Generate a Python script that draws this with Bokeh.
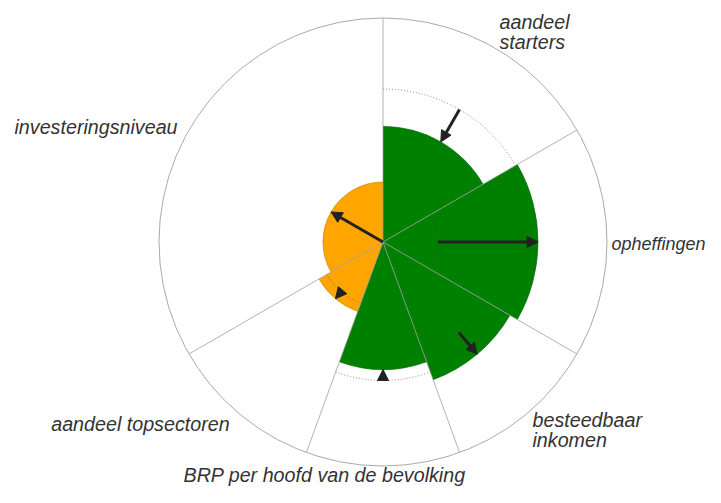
import math
from bokeh.plotting import figure
from bokeh.models import ColumnDataSource, Arrow, NormalHead, Range1d
from bokeh.core.properties import value
from bokeh.embed import file_html
from bokeh.resources import INLINE

# ---------------- data ----------------
categories = ["aandeel starters", "opheffingen", "besteedbaar inkomen",
              "BRP per hoofd van de bevolking", "aandeel topsectoren", "investeringsniveau"]
label_lines = [["aandeel", "starters"], ["opheffingen"], ["besteedbaar", "inkomen"],
               ["BRP per hoofd van de bevolking"], ["aandeel topsectoren"], ["investeringsniveau"]]
sector_span = [60, 60, 40, 40, 40, 120]          # degrees, clockwise from 12 o'clock
current = [51.6, 69.2, 65.4, 56.9, 33.0, 26.8]   # current value (outer circle = 100)
previous = [68.3, 24.6, 52.7, 61.8, 29.0, 0.0]   # previous value
scale_max = 100

# ---------------- style / layout ----------------
GREEN, ORANGE = "#008000", "#FFA500"
fill_colors = [GREEN, GREEN, GREEN, GREEN, ORANGE, ORANGE]
edge_colors = ["#006a00", "#006a00", "#006a00", "#006a00", "#d08800", "#d08800"]
W, H = 705, 487
CX, CY = 382.5, 241.5          # centre of the rose, pixels from top-left of figure
R_OUT = 224.0
PX = R_OUT / scale_max
# (x, y, align, font size) relative to the centre, in pixels
label_anchor = [(116.5, 220.5, "left", "19.7px"), (228.5, -1.5, "left", "18px"),
                (149.5, -178.2, "left", "19.7px"), (-199.5, -233.0, "left", "19.7px"),
                (-331.8, -181.5, "left", "19.7px"), (-368.5, 115.2, "left", "19.7px")]
LINE_STEP = 20.0

# sector boundaries (clockwise from 90 deg)
bounds = [90.0]
for s in sector_span:
    bounds.append(bounds[-1] - s)
starts = [bounds[i + 1] for i in range(len(sector_span))]
ends = [bounds[i] for i in range(len(sector_span))]
mids = [(a + b) / 2 for a, b in zip(starts, ends)]

src = ColumnDataSource(dict(
    cat=categories,
    start=[math.radians(a) for a in starts], end=[math.radians(a) for a in ends],
    r_cur=[v * PX for v in current], r_prev=[v * PX for v in previous],
    fill=fill_colors, edge=edge_colors))

p = figure(width=W, height=H, output_backend="svg", toolbar_location=None,
           x_range=Range1d(-CX, W - CX), y_range=Range1d(-(H - CY), CY),
           min_border=0, tools="")
p.axis.visible = False
p.grid.visible = False
p.outline_line_color = None
p.background_fill_color = "white"

# sectors
p.wedge(x=0, y=0, radius="r_cur", start_angle="start", end_angle="end",
        fill_color="fill", line_color=None, source=src)
p.arc(x=0, y=0, radius="r_cur", start_angle="start", end_angle="end",
      line_color="edge", line_width=1, line_alpha=0.7, source=src)

# previous values (dotted arcs)
p.arc(x=0, y=0, radius="r_prev", start_angle="start", end_angle="end",
      line_color="#444444", line_alpha=0.6, line_width=1,
      line_dash="1 2", source=src)

# spokes and outer circle
p.segment(x0=[0] * (len(bounds) - 1), y0=[0] * (len(bounds) - 1),
          x1=[R_OUT * math.cos(math.radians(b)) for b in bounds[:-1]],
          y1=[R_OUT * math.sin(math.radians(b)) for b in bounds[:-1]],
          line_color="#999999", line_alpha=0.75, line_width=1)
p.circle(x=[0], y=[0], radius=R_OUT, fill_color=None, line_color="#aaaaaa", line_width=1)

# change arrows
asrc = ColumnDataSource(dict(
    x0=[v * PX * math.cos(math.radians(m)) for v, m in zip(previous, mids)],
    y0=[v * PX * math.sin(math.radians(m)) for v, m in zip(previous, mids)],
    x1=[v * PX * math.cos(math.radians(m)) for v, m in zip(current, mids)],
    y1=[v * PX * math.sin(math.radians(m)) for v, m in zip(current, mids)]))
p.add_layout(Arrow(end=NormalHead(size=11, fill_color="#222222", line_color="#222222"),
                   x_start="x0", y_start="y0", x_end="x1", y_end="y1",
                   line_color="#222222", line_width=3, source=asrc))

# labels
tx, ty, tt, ta, tf = [], [], [], [], []
for lines, (ax, ay, al, fs) in zip(label_lines, label_anchor):
    for k, line in enumerate(lines):
        tx.append(ax)
        ty.append(ay - k * LINE_STEP)
        tt.append(line)
        ta.append(al)
        tf.append(fs)
tsrc = ColumnDataSource(dict(x=tx, y=ty, t=tt, a=ta, f=tf))
p.text(x="x", y="y", text="t", text_align="a", text_baseline="alphabetic",
       text_font=value("Liberation Sans"), text_font_style="italic",
       text_font_size="f", text_color="#333333", source=tsrc)

open("out.html", "w").write(file_html(p, INLINE))
